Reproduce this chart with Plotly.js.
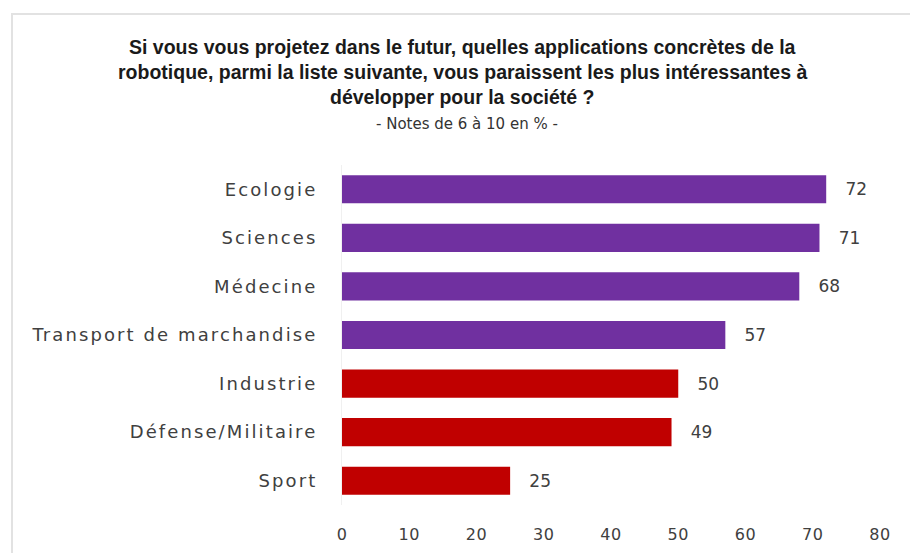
<!DOCTYPE html>
<html>
<head>
<meta charset="utf-8">
<script src="https://cdn.plot.ly/plotly-3.0.1.min.js"></script>
<style>
html,body{margin:0;padding:0;background:#fff;}
#wrap{position:relative;width:910px;height:553px;}
#chart{position:absolute;left:0;top:0;width:910px;height:553px;}
#frame{position:absolute;left:11px;top:13px;width:899px;height:540px;border-left:2px solid #e2e2e2;border-top:2px solid #e2e2e2;pointer-events:none;}
#chart .ytick text{letter-spacing:2.1px;}
#chart .xtick text{letter-spacing:0.5px;}
#chart .textpoint text{letter-spacing:0.6px;}
</style>
</head>
<body>
<div id="wrap"><div id="chart"></div><div id="frame"></div></div>
<script>
const categories = ["Ecologie", "Sciences", "Médecine", "Transport de marchandise", "Industrie", "Défense/Militaire", "Sport"];
const values = [72, 71, 68, 57, 50, 49, 25];
const groupColors = ["#7030A0", "#7030A0", "#7030A0", "#7030A0", "#C00000", "#C00000", "#C00000"];
const tickValues = [0, 10, 20, 30, 40, 50, 60, 70, 80];
const titleLines = [
  "Si vous vous projetez dans le futur, quelles applications concrètes de la",
  "robotique, parmi la liste suivante, vous paraissent les plus intéressantes à",
  "développer pour la société ?"
];
const subtitle = "- Notes de 6 à 10 en % -";

const font = "DejaVu Sans, Verdana, sans-serif";
const titleFont = "Liberation Sans, Arial, sans-serif";
const plotTop = 165, plotBottom = 505;
function py(pix){ return (plotBottom - pix) / (plotBottom - plotTop); }

const annotations = titleLines.map((t, i) => ({
  text: "<b>" + t + "</b>", xref: "paper", yref: "paper",
  x: (462 - 342) / 538, y: py([47, 72, 97][i]), xanchor: "center", yanchor: "middle",
  showarrow: false, font: {family: titleFont, size: 19.5, color: "#1a1a1a"}
}));
annotations.push({
  text: subtitle, xref: "paper", yref: "paper",
  x: (467 - 342) / 538, y: py(124), xanchor: "center", yanchor: "middle",
  showarrow: false, font: {family: font, size: 15, color: "#333"}
});

const trace = {
  type: "bar", orientation: "h",
  y: categories, x: values,
  marker: {color: groupColors},
  width: 0.58,
  text: values.map(v => "   " + v), textposition: "outside",
  textfont: {family: font, size: 17, color: "#404040"},
  cliponaxis: false, hoverinfo: "none"
};

const layout = {
  width: 910, height: 553,
  margin: {l: 342, r: 30, t: plotTop, b: 553 - plotBottom},
  paper_bgcolor: "#fff", plot_bgcolor: "#fff",
  showlegend: false,
  xaxis: {range: [0, 80], tickvals: tickValues, showgrid: false, zeroline: false, showline: false,
          ticks: "", ticklabelstandoff: 18, tickfont: {family: font, size: 16, color: "#404040"}, fixedrange: true},
  yaxis: {autorange: "reversed", showgrid: false, zeroline: false, showline: true, linecolor: "#f0f0f0", linewidth: 1,
          ticks: "", ticklabelstandoff: 20, tickfont: {family: font, size: 18, color: "#404040"}, fixedrange: true},
  annotations: annotations
};

Plotly.newPlot("chart", [trace], layout, {displayModeBar: false, staticPlot: true});
</script>
</body>
</html>
